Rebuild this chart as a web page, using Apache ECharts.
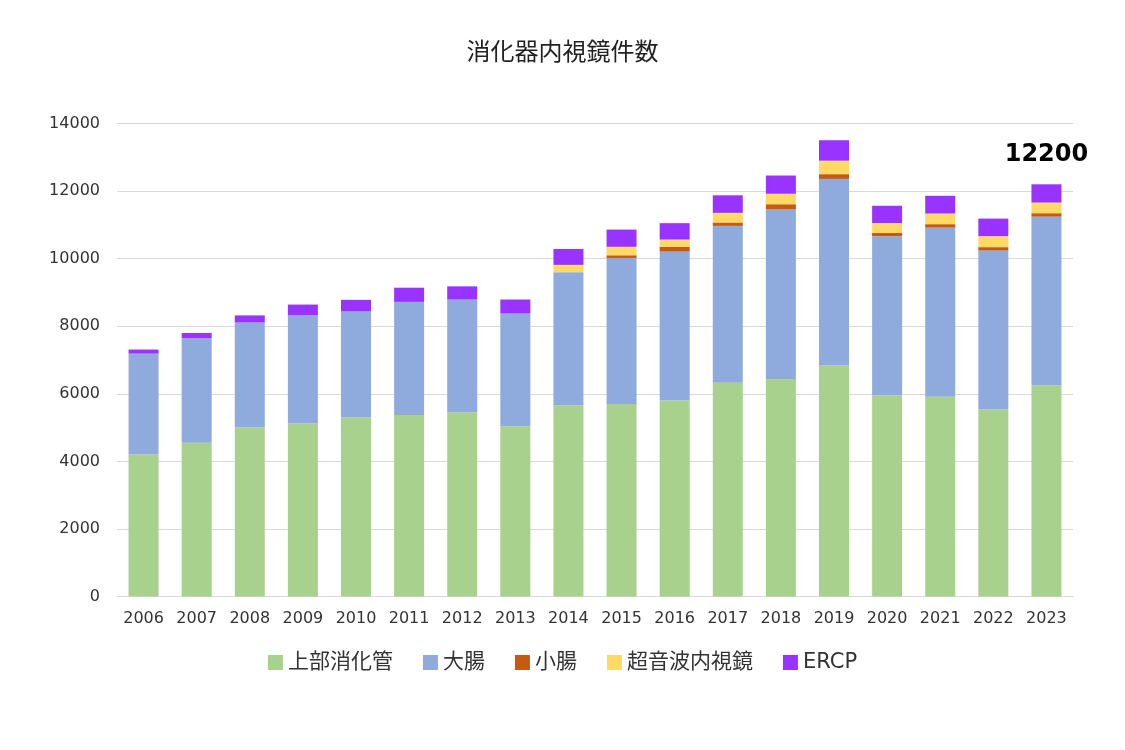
<!DOCTYPE html>
<html>
<head>
<meta charset="utf-8">
<script src="https://cdn.jsdelivr.net/npm/echarts@6/dist/echarts.min.js"></script>
<style>html,body{margin:0;padding:0;background:#fff}#c{width:1125px;height:750px}</style>
</head>
<body>
<div id="c"></div>
<script>
const years = ['2006','2007','2008','2009','2010','2011','2012','2013','2014','2015','2016','2017','2018','2019','2020','2021','2022','2023'];
const upperGI = [4200,4550,5000,5120,5300,5370,5450,5040,5650,5700,5800,6330,6440,6840,5950,5910,5535,6255];
const colon   = [2990,3090,3110,3200,3140,3350,3340,3335,3950,4320,4410,4640,5015,5520,4715,5010,4705,4990];
const smallInt= [0,0,0,0,0,0,0,0,0,80,140,100,155,140,100,100,100,100];
const eus     = [0,0,0,0,0,0,0,0,215,250,215,285,310,400,285,315,325,315];
const ercp    = [120,160,210,320,340,420,390,415,470,510,485,520,540,605,515,525,520,540];
const yTicks  = [0,2000,4000,6000,8000,10000,12000,14000];
const seriesNames = ['上部消化管','大腸','小腸','超音波内視鏡','ERCP'];
const highlightLabel = '12200';

const colors = ['#A9D18E','#8FAADC','#C55A11','#FFD966','#9933FF'];
const font = "'DejaVu Sans','Noto Sans CJK JP',sans-serif";
const dataSets = [upperGI, colon, smallInt, eus, ercp];

const series = dataSets.map((d, i) => ({
  name: seriesNames[i],
  type: 'bar',
  stack: 'total',
  barWidth: 30,
  itemStyle: { color: colors[i] },
  data: d.map((v, j) => {
    if (i === 4 && j === years.length - 1) {
      return { value: v, label: { show: true, position: 'top', distance: 18, formatter: highlightLabel,
        fontSize: 24, fontWeight: 'bold', color: '#000', fontFamily: font } };
    }
    return v;
  })
}));

const chart = echarts.init(document.getElementById('c'));
chart.setOption({
  animation: false,
  backgroundColor: '#fff',
  title: {
    text: '消化器内視鏡件数', left: 'center', top: 37,
    textStyle: { fontSize: 24, fontWeight: 'normal', color: '#222', fontFamily: font }
  },
  legend: {
    bottom: 72, left: 'center', itemWidth: 15, itemHeight: 15, itemGap: 30, icon: 'rect',
    textStyle: { fontSize: 21, color: '#333', fontFamily: font }
  },
  grid: { left: 117, right: 52, top: 123.5, bottom: 153.5, containLabel: false },
  xAxis: {
    type: 'category', data: years,
    axisTick: { show: false },
    axisLine: { lineStyle: { color: '#d9d9d9' } },
    axisLabel: { fontSize: 16, color: '#333', fontFamily: font, margin: 14 }
  },
  yAxis: {
    type: 'value', min: yTicks[0], max: yTicks[yTicks.length-1], interval: 2000,
    axisLine: { show: false }, axisTick: { show: false },
    splitLine: { lineStyle: { color: '#d9d9d9' } },
    axisLabel: { fontSize: 16, color: '#333', fontFamily: font, margin: 17, formatter: v => String(v) }
  },
  series
});
</script>
</body>
</html>
